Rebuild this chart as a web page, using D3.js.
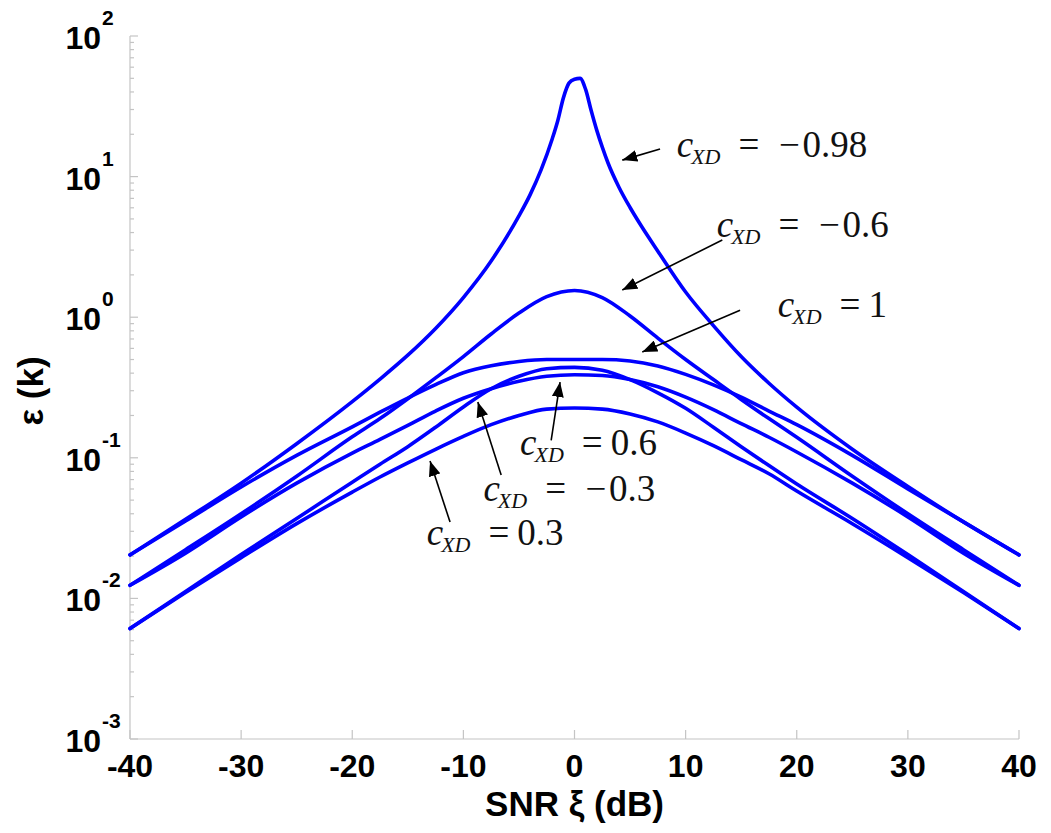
<!DOCTYPE html>
<html>
<head>
<meta charset="utf-8">
<script src="https://cdn.jsdelivr.net/npm/d3@7"></script>
<style>
  body { margin: 0; background: #fff; }
</style>
</head>
<body>
<div id="chart"></div>
<script>
// SNR grid (dB) shared by most curves
const snrGrid = [-40, -35, -30, -25, -20, -17.5, -15, -12.5, -10, -7.5, -5, -2.5, 0,
    2.5, 5, 7.5, 10, 12.5, 15, 17.5, 20, 25, 30, 35, 40];
// finer grid for the sharp c = -0.98 curve
const snrPeak = [-40, -35, -30, -25, -20, -17.5, -15, -12.5, -10, -7.5, -5, -4, -3, -2, -1.5, -1, -0.5, 0,
    0.5, 1, 1.5, 2, 2.5, 3, 4, 5, 6, 7.5, 10, 12.5, 15, 17.5, 20, 25, 30, 35, 40];

const epsM098 = [0.0204, 0.0365, 0.066, 0.126, 0.251, 0.363, 0.537, 0.832, 1.38, 2.51, 5.25, 7.41, 11.2, 18.6, 25.1, 36.3, 46.2, 49.3,
    50, 41.7, 29.5, 21.4, 16.2, 12.6, 8.41, 6.03, 4.47, 2.95, 1.51, 0.871, 0.525, 0.339, 0.229, 0.115, 0.0625, 0.035, 0.0204];
const epsM06 = [0.0124, 0.0222, 0.040, 0.074, 0.141, 0.19, 0.263, 0.37, 0.525, 0.76, 1.07, 1.40, 1.55,
    1.38, 1.02, 0.71, 0.5, 0.36, 0.26, 0.19, 0.14, 0.074, 0.040, 0.0222, 0.0124];
const epsP1 = [0.0204, 0.0355, 0.062, 0.104, 0.166, 0.211, 0.266, 0.331, 0.403, 0.452, 0.484, 0.5, 0.5,
    0.5, 0.488, 0.45, 0.392, 0.33, 0.27, 0.215, 0.172, 0.104, 0.06, 0.035, 0.0204];
const epsP06 = [0.0124, 0.021, 0.038, 0.066, 0.108, 0.135, 0.17, 0.215, 0.265, 0.31, 0.35, 0.38, 0.39,
    0.385, 0.36, 0.32, 0.27, 0.22, 0.175, 0.14, 0.11, 0.066, 0.038, 0.021, 0.0124];
const epsM03 = [0.0061, 0.0112, 0.0205, 0.037, 0.067, 0.09, 0.12, 0.165, 0.23, 0.31, 0.38, 0.43, 0.44,
    0.42, 0.36, 0.29, 0.225, 0.165, 0.12, 0.088, 0.065, 0.037, 0.0205, 0.0112, 0.0061];
const epsP03 = [0.0061, 0.011, 0.0195, 0.034, 0.057, 0.073, 0.092, 0.115, 0.142, 0.172, 0.2, 0.222, 0.226,
    0.222, 0.205, 0.18, 0.15, 0.122, 0.097, 0.077, 0.058, 0.034, 0.0195, 0.011, 0.0061];

const xTicks = [-40, -30, -20, -10, 0, 10, 20, 30, 40];
const yDecades = [-3, -2, -1, 0, 1, 2];

// annotation labels: value text, label anchor, arrow start, arrow tip (dB, eps)
const labelValues = ['-0.98', '-0.6', '1', '0.6', '-0.3', '0.3'];
const labelAt = [[9.2, 13.8], [12.8, 3.7], [18.3, 1.0], [-4.9, 0.104], [-8.2, 0.0495], [-13.3, 0.024]];
const arrowFrom = [[7.7, 15.7], [13.3, 3.54], [14.9, 1.12], [-2.1, 0.133], [-6.6, 0.0755], [-11.2, 0.0349]];
const arrowTo = [[4.3, 13.1], [4.3, 1.56], [6.1, 0.566], [-1.3, 0.346], [-8.7, 0.249], [-13.0, 0.0948]];

const width = 1051, height = 833;
const margin = { top: 36, right: 32, bottom: 94, left: 130 };
const axisColor = '#c4c4c4';
const lineColor = '#0000ff';

const svg = d3.select('#chart')
    .append('svg')
    .attr('width', width)
    .attr('height', height)
    .style('background', '#fff');

const x = d3.scaleLinear().domain([-40, 40]).range([margin.left, width - margin.right]);
const y = d3.scaleLog().domain([1e-3, 1e2]).range([height - margin.bottom, margin.top]);

// axes (left + bottom only, ticks pointing inward)
const axes = svg.append('g').attr('stroke', axisColor).attr('stroke-width', 1.2);
axes.append('line')
    .attr('x1', x(-40)).attr('x2', x(-40))
    .attr('y1', y(1e2)).attr('y2', y(1e-3));
axes.append('line')
    .attr('x1', x(-40)).attr('x2', x(40))
    .attr('y1', y(1e-3)).attr('y2', y(1e-3));

const minorVals = [];
yDecades.slice(0, -1).forEach(p => {
    for (let m = 2; m <= 9; m++) minorVals.push(m * Math.pow(10, p));
});
axes.selectAll('.ymajor')
    .data(yDecades)
    .join('line')
    .attr('x1', x(-40)).attr('x2', x(-40) + 8)
    .attr('y1', d => y(Math.pow(10, d))).attr('y2', d => y(Math.pow(10, d)));
axes.selectAll('.yminor')
    .data(minorVals)
    .join('line')
    .attr('x1', x(-40)).attr('x2', x(-40) + 4)
    .attr('y1', d => y(d)).attr('y2', d => y(d));
axes.selectAll('.xtick')
    .data(xTicks)
    .join('line')
    .attr('x1', d => x(d)).attr('x2', d => x(d))
    .attr('y1', y(1e-3)).attr('y2', y(1e-3) - 9);

// tick labels
const tickFont = "'Liberation Sans', Arial, sans-serif";
svg.append('g')
    .selectAll('text')
    .data(xTicks)
    .join('text')
    .attr('x', d => x(d))
    .attr('y', y(1e-3) + 38)
    .attr('text-anchor', 'middle')
    .attr('font-family', tickFont)
    .attr('font-weight', 'bold')
    .attr('font-size', 32)
    .text(d => d);

const yLab = svg.append('g')
    .attr('font-family', tickFont)
    .attr('font-weight', 'bold');
yLab.selectAll('.base')
    .data(yDecades)
    .join('text')
    .attr('x', 101)
    .attr('y', d => y(Math.pow(10, d)) + 13)
    .attr('text-anchor', 'end')
    .attr('font-size', 32)
    .text('10');
yLab.selectAll('.exp')
    .data(yDecades)
    .join('text')
    .attr('x', 102)
    .attr('y', d => y(Math.pow(10, d)) - 11)
    .attr('font-size', 21)
    .text(d => d);

// axis titles
svg.append('text')
    .attr('x', x(0))
    .attr('y', 816)
    .attr('text-anchor', 'middle')
    .attr('font-family', tickFont)
    .attr('font-weight', 'bold')
    .attr('font-size', 35)
    .text('SNR \u03be (dB)');
svg.append('text')
    .attr('transform', 'translate(43,391) rotate(-90)')
    .attr('text-anchor', 'middle')
    .attr('font-family', tickFont)
    .attr('font-weight', 'bold')
    .attr('font-size', 35)
    .text('\u03b5 (k)');

// curves
const series = [
    { snr: snrPeak, eps: epsM098 },
    { snr: snrGrid, eps: epsM06 },
    { snr: snrGrid, eps: epsP1 },
    { snr: snrGrid, eps: epsP06 },
    { snr: snrGrid, eps: epsM03 },
    { snr: snrGrid, eps: epsP03 },
];
const line = d3.line()
    .x(d => x(d[0]))
    .y(d => y(d[1]))
    .curve(d3.curveMonotoneX);
svg.append('g')
    .attr('fill', 'none')
    .attr('stroke', lineColor)
    .attr('stroke-width', 3.6)
    .attr('stroke-linejoin', 'round')
    .attr('stroke-linecap', 'round')
    .selectAll('path')
    .data(series)
    .join('path')
    .attr('d', s => line(s.snr.map((v, i) => [v, s.eps[i]])));

// arrows
svg.append('defs').append('marker')
    .attr('id', 'head')
    .attr('viewBox', '0 -6 15 12')
    .attr('refX', 15).attr('refY', 0)
    .attr('markerWidth', 15).attr('markerHeight', 12)
    .attr('markerUnits', 'userSpaceOnUse')
    .attr('orient', 'auto')
    .append('path')
    .attr('d', 'M0,-6L15,0L0,6Z')
    .attr('fill', '#000');

svg.append('g')
    .attr('stroke', '#000')
    .attr('stroke-width', 1.6)
    .selectAll('line')
    .data(labelValues.map((v, i) => [arrowFrom[i], arrowTo[i]]))
    .join('line')
    .attr('x1', d => x(d[0][0])).attr('y1', d => y(d[0][1]))
    .attr('x2', d => x(d[1][0])).attr('y2', d => y(d[1][1]))
    .attr('marker-end', 'url(#head)');

// c_XD = value labels
const mathFont = "'Liberation Serif', 'Times New Roman', serif";
const labels = svg.append('g')
    .selectAll('text')
    .data(labelValues.map((v, i) => ({ v, at: labelAt[i] })))
    .join('text')
    .attr('x', d => x(d.at[0]))
    .attr('y', d => y(d.at[1]))
    .attr('font-family', mathFont)
    .attr('font-size', 37)
    .attr('fill', '#111');
labels.append('tspan').attr('font-style', 'italic').text('c');
labels.append('tspan').attr('font-style', 'italic').attr('font-size', 22)
    .attr('dx', -2).attr('dy', 7).text('XD');
labels.append('tspan').attr('dx', 18).attr('dy', -7).text('=');
labels.each(function (d) {
    const t = d3.select(this);
    if (d.v.startsWith('-')) {
        t.append('tspan').attr('dx', 19.6).text('\u2212');
        t.append('tspan').attr('dx', 2.6).text(d.v.slice(1));
    } else {
        t.append('tspan').attr('dx', 8).text(d.v);
    }
});
</script>
</body>
</html>
